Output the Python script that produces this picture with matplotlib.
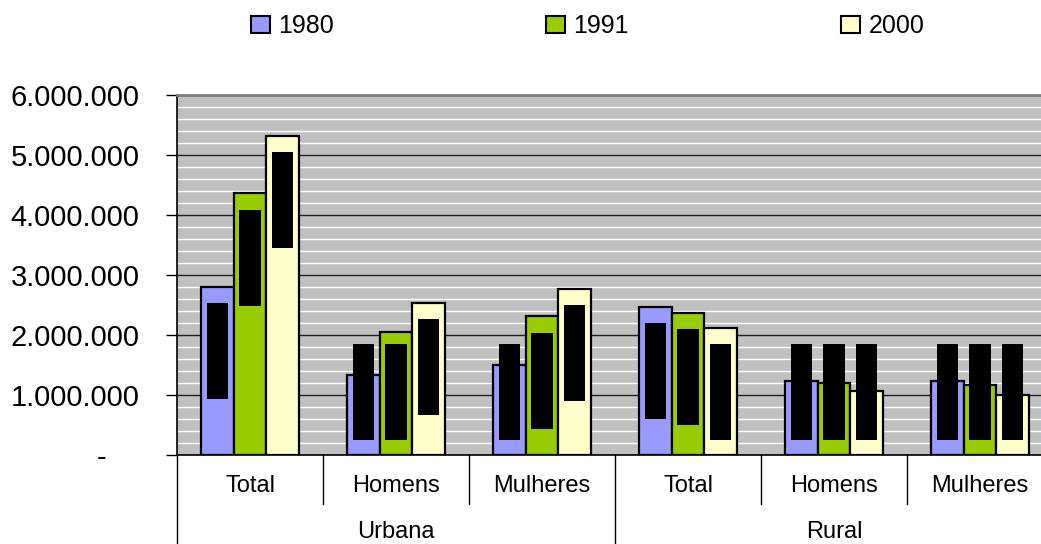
import numpy as np
import matplotlib
matplotlib.use("Agg")
import matplotlib.pyplot as plt
from matplotlib.patches import Patch
from matplotlib.ticker import FixedLocator, MultipleLocator

plt.rcParams['font.family'] = ['Liberation Sans', 'DejaVu Sans']

# data
areas = ["Urbana", "Rural"]
groups = ["Total", "Homens", "Mulheres", "Total", "Homens", "Mulheres"]
years = ["1980", "1991", "2000"]
pop_1980 = [2800000, 1330000, 1500000, 2470000, 1230000, 1230000]
pop_1991 = [4360000, 2050000, 2310000, 2370000, 1200000, 1170000]
pop_2000 = [5320000, 2540000, 2770000, 2120000, 1070000, 1000000]
y_ticks = [0, 1000000, 2000000, 3000000, 4000000, 5000000, 6000000]
y_labels = ["-    ", "1.000.000", "2.000.000", "3.000.000", "4.000.000", "5.000.000", "6.000.000"]

colors = ["#9999FF", "#99CC00", "#FFFFCC"]
series = [pop_1980, pop_1991, pop_2000]

fig = plt.figure(figsize=(10.41, 5.44), dpi=100)
ax = fig.add_axes([177 / 1041, 1 - 455 / 544, 876 / 1041, 360 / 544])
ax.set_facecolor("#C0C0C0")

x = np.arange(len(groups))
bw = 0.223
# black label boxes hiding the data labels
box_w = 0.144
box_h = 1600000
box_drop = 270000
box_floor = 1850000

for k, (vals, col) in enumerate(zip(series, colors)):
    xpos = x + (k - 1) * bw
    ax.bar(xpos, vals, width=bw, color=col, edgecolor="black", linewidth=1.6, zorder=3)
    tops = np.maximum(np.array(vals) - box_drop, box_floor)
    ax.bar(xpos, [box_h] * len(vals), bottom=tops - box_h, width=box_w,
           color="black", linewidth=0, zorder=4)

ax.set_xlim(-0.5, len(groups) - 0.5)
ax.set_ylim(0, 6000000)
ax.yaxis.set_major_locator(FixedLocator(y_ticks))
ax.set_yticklabels(y_labels, fontsize=21)
ax.yaxis.set_minor_locator(MultipleLocator(200000))
ax.tick_params(axis="y", which="major", length=8, width=1, pad=19, direction="out")
ax.tick_params(axis="y", which="minor", length=0)
ax.set_xticks([])

ax.set_axisbelow(True)
ax.grid(axis="y", which="minor", color="white", linewidth=1.0, zorder=0)
ax.grid(axis="y", which="major", color="#202020", linewidth=1.0, zorder=1)

ax.spines["right"].set_visible(False)
ax.spines["top"].set_color("#808080")
ax.spines["top"].set_linewidth(2)
ax.spines["left"].set_linewidth(1.2)
ax.spines["bottom"].set_linewidth(1.2)

# category axis: labels and divider lines
trans = ax.get_xaxis_transform()
for i, g in enumerate(groups):
    ax.text(i, -0.085, g, transform=trans, ha="center", va="center", fontsize=17)
for b in np.arange(0.5, len(groups) - 0.5, 1.0):
    full = (b == len(groups) / 2 - 0.5)
    ax.plot([b, b], [0, -0.3 if full else -0.135], transform=trans, color="black",
            linewidth=1, clip_on=False)
ax.plot([-0.5, -0.5], [0, -0.3], transform=trans, color="black", linewidth=1, clip_on=False)
per = len(groups) // len(areas)
for j, a in enumerate(areas):
    ax.text(j * per + (per - 1) / 2, -0.215, a, transform=trans, ha="center", va="center", fontsize=17)

handles = [Patch(facecolor=c, edgecolor="black", linewidth=1.5) for c in colors]
fig.legend(handles, years, loc="center", bbox_to_anchor=(0.5645, 0.952), ncol=3, frameon=False,
           fontsize=18, handlelength=0.76, handleheight=0.68, handletextpad=0.32, columnspacing=8.5)

fig.savefig("out.png", dpi=100)
